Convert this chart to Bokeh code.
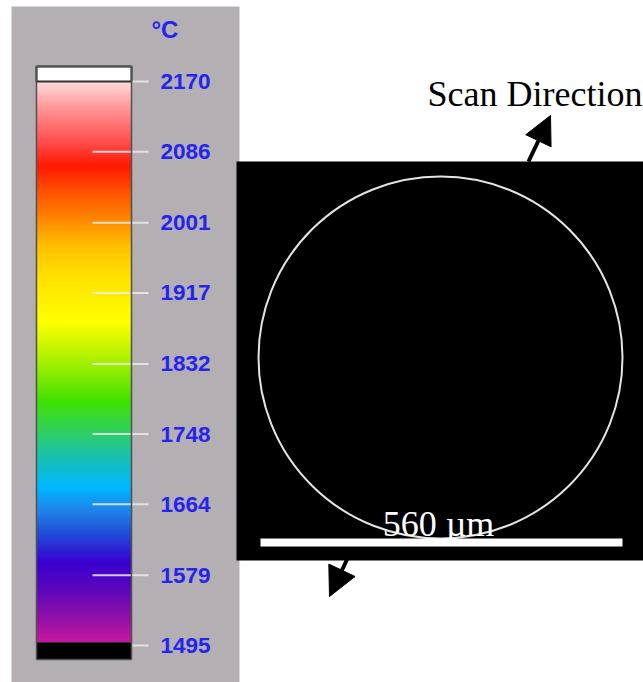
from bokeh.plotting import figure
from bokeh.models import Range1d, LinearColorMapper, Arrow, NormalHead
from bokeh.core.properties import value
from bokeh.embed import file_html
from bokeh.resources import INLINE
import numpy as np

# ---- data ----
temps = [2170, 2086, 2001, 1917, 1832, 1748, 1664, 1579, 1495]
tick_labels = ["2170", "2086", "2001", "1917", "1832", "1748", "1664", "1579", "1495"]
unit_label = "°C"
scale_label = "560 µm"
scan_label = "Scan Direction"
t_min, t_max = 1495, 2170

# ---- colour stops of the thermal palette (fraction from bottom, colour) ----
stop_pos = [0.0, 0.009, 0.048, 0.093, 0.146, 0.20, 0.236, 0.28, 0.334, 0.379,
            0.432, 0.504, 0.575, 0.655, 0.709, 0.7625, 0.807, 0.852, 0.896, 0.95, 1.0]
stop_col = ["#c018a0", "#c018a0", "#9010a8", "#6008b8", "#3800d0", "#2050d8", "#2080e8",
            "#00b8ff", "#18c0b0", "#30d060", "#40e000", "#a8f000", "#ffff00", "#ffe000",
            "#ffc000", "#ff8000", "#ff5000", "#ff1800", "#ff5050", "#ff9090", "#ffd8d8"]


def hex2rgb(h):
    return [int(h[i:i + 2], 16) for i in (1, 3, 5)]


rgb = np.array([hex2rgb(c) for c in stop_col], dtype=float)
fr = np.linspace(0, 1, 256)
palette = []
for f in fr:
    r = np.interp(f, stop_pos, rgb[:, 0])
    g = np.interp(f, stop_pos, rgb[:, 1])
    b = np.interp(f, stop_pos, rgb[:, 2])
    palette.append("#%02x%02x%02x" % (int(round(r)), int(round(g)), int(round(b))))

mapper = LinearColorMapper(palette=palette, low=t_min, high=t_max)

# ---- figure in reference-pixel coordinates ----
W, H = 643, 682
s = W / 643.0
p = figure(width=W, height=H, x_range=Range1d(0, 643), y_range=Range1d(682, 0),
           output_backend="svg", toolbar_location=None, min_border=0,
           x_axis_location=None, y_axis_location=None,
           background_fill_color="white", border_fill_color="white",
           outline_line_color=None)
p.grid.grid_line_color = None

# temperature scale placed along the colour bar
px_top, px_bot = 81.0, 645.0
k = (t_max - t_min) / (px_bot - px_top)
p.extra_y_ranges = {"temp": Range1d(start=t_min - (682 - px_bot) * k, end=t_max + px_top * k)}

# grey panel and black image region
p.quad(left=11, right=239, top=6, bottom=682, fill_color="#b3afb3", line_color=None)
p.quad(left=236, right=643, top=161, bottom=560, fill_color="black", line_color=None)

# colour bar
ramp = np.linspace(t_min, t_max, 256).reshape(256, 1)
p.image(image=[ramp], x=36, y=t_min, dw=95, dh=t_max - t_min, color_mapper=mapper,
        y_range_name="temp")

# tick lines
p.segment(x0=92, x1=148, y0=temps, y1=temps, y_range_name="temp",
          line_color="#ececec", line_width=2 * s, line_alpha=0.85)

# top white cell and bottom black cell
p.quad(left=36, right=131, top=66, bottom=81, fill_color="white",
       line_color="#303030", line_width=2 * s)
p.quad(left=36, right=131, top=642, bottom=659, fill_color="black",
       line_color="#303030", line_width=1 * s)
p.quad(left=36, right=131, top=66, bottom=659, fill_color=None,
       line_color="#505050", line_width=1.5 * s)

# tick labels
p.text(x=[160] * len(temps), y=temps, text=tick_labels, y_range_name="temp",
       text_font=value("Liberation Sans"), text_font_style="bold",
       text_font_size="%.1fpx" % (22.5 * s), text_color="#2424ee",
       text_baseline="middle", text_align="left")
p.text(x=[151], y=[29], text=[unit_label], text_font=value("Liberation Sans"),
       text_font_style="bold", text_font_size="%.1fpx" % (24 * s), text_color="#2424ee",
       text_baseline="middle", text_align="left")

# melt pool outline
p.ellipse(x=440, y=357, width=364, height=362, fill_color=None,
          line_color="#e4e4e4", line_width=2 * s)

# scale bar and label
p.quad(left=260, right=622, top=538, bottom=546, fill_color="white", line_color=None)
p.text(x=[438], y=[523], text=[scale_label], text_font=value("Liberation Serif"),
       text_font_size="%.1fpx" % (36 * s), text_color="white",
       text_baseline="alphabetic", text_align="center")

# scan direction label and arrows
p.text(x=[427], y=[93], text=[scan_label], text_font=value("Liberation Serif"),
       text_font_size="%.1fpx" % (36 * s), text_color="black",
       text_baseline="alphabetic", text_align="left")

p.add_layout(Arrow(end=NormalHead(size=28 * s, fill_color="black", line_color="black"),
                   x_start=528, y_start=161, x_end=550, y_end=115,
                   line_width=4 * s, line_color="black"))
p.add_layout(Arrow(end=NormalHead(size=29 * s, fill_color="black", line_color="black"),
                   x_start=347, y_start=558, x_end=329, y_end=596,
                   line_width=4 * s, line_color="black"))

open("out.html", "w").write(file_html(p, INLINE))
